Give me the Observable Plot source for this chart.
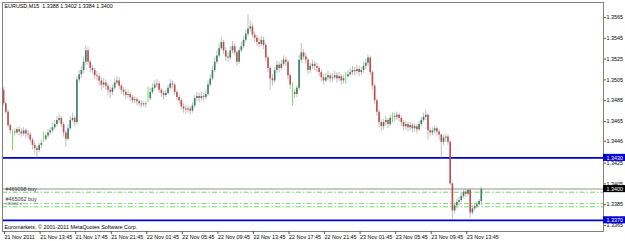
<!DOCTYPE html>
<html><head><meta charset="utf-8">
<script src="https://cdn.jsdelivr.net/npm/d3@7"></script>
<script src="https://cdn.jsdelivr.net/npm/@observablehq/plot@0.6"></script>
<style>html,body{margin:0;padding:0;background:#fff}svg{display:block}</style>
</head><body><div id="chart"></div>
<script>
const symbolTitle = "EURUSD,M15  1.3388 1.3402 1.3384 1.3400";
const copyright = "Euromarkets, \u00a9 2001-2011 MetaQuotes Software Corp.";
// prices as pips above 1.3300
const pipBase = 1.33;
const opens = [195,182,174,161,155,155,154,157,155,153,
 156,153,152,147,142,139,137,142,148,148,
 151,154,156,159,162,166,168,162,154,148,
 158,166,168,164,205,210,214,222,233,222,
 216,214,209,208,204,200,202,199,195,193,
 197,202,204,199,195,193,190,191,188,185,
 186,184,182,181,182,187,187,193,197,200,
 201,195,192,190,192,197,201,200,193,188,
 185,179,177,176,177,175,180,187,189,187,
 189,188,191,200,206,214,222,228,235,241,
 233,227,226,233,237,231,222,233,237,243,
 249,254,256,248,245,241,239,243,238,226,
 216,206,204,214,219,216,220,224,222,209,
 193,193,191,197,224,231,227,224,214,218,
 220,218,216,212,207,204,207,209,206,207,
 209,206,208,204,208,208,210,212,214,213,
 215,212,214,218,221,226,212,199,185,174,
 164,160,164,166,162,170,170,169,171,168,
 164,160,162,159,161,158,160,157,162,166,
 169,171,156,154,156,158,155,152,145,149,
 150,145,105,79,84,87,89,93,97,95,
 99,77,81,83,85,88];
const highs = [198,184,176,163,157,158,159,160,158,159,
 158,156,154,149,145,141,144,147,155,154,
 157,159,163,166,170,172,170,164,156,162,
 170,173,170,208,214,218,227,238,236,224,
 219,216,213,211,207,206,205,201,198,200,
 206,208,207,201,198,196,195,193,190,189,
 188,186,185,184,184,198,197,201,204,205,
 203,197,194,195,200,205,204,202,195,190,
 187,182,180,180,179,183,190,193,192,193,
 192,195,204,210,218,227,233,240,246,243,
 236,231,237,242,240,233,236,241,247,253,
 267,262,259,251,248,245,247,246,240,228,
 218,210,217,223,222,224,228,227,224,211,
 202,196,199,229,240,234,230,226,221,224,
 223,221,218,214,210,211,213,211,211,213,
 212,212,210,209,212,214,216,218,217,219,
 218,217,222,225,229,228,214,201,187,176,
 167,167,170,168,171,173,173,174,173,170,
 166,165,164,164,163,163,162,165,169,173,
 176,172,159,159,161,160,157,153,152,153,
 152,147,106,87,90,92,96,100,100,100,
 100,84,86,88,90,102];
const lows = [180,172,159,153,137,151,152,151,150,151,
 148,148,144,138,134,130,135,139,145,146,
 149,152,154,157,160,163,159,150,140,146,
 156,164,160,162,202,206,211,219,219,212,
 210,205,204,199,195,197,195,190,187,190,
 195,200,196,191,189,186,187,184,182,182,
 180,179,178,179,178,183,185,191,195,197,
 192,188,186,188,190,195,196,190,185,181,
 176,173,172,173,171,173,178,184,183,185,
 184,186,189,198,204,212,220,226,233,229,
 223,222,224,230,228,218,220,231,235,241,
 247,251,245,241,237,236,237,234,222,212,
 195,199,202,211,212,214,218,218,205,196,
 180,187,188,195,221,224,220,210,211,215,
 214,212,208,203,200,202,204,202,203,205,
 202,203,200,201,201,206,208,209,209,210,
 208,209,211,215,218,209,195,181,170,159,
 156,157,161,158,160,164,165,166,164,160,
 156,157,155,156,154,155,153,155,160,164,
 166,147,150,151,153,151,147,130,142,145,
 142,103,71,76,81,84,87,91,92,93,
 72,75,79,81,84,84];
const closes = [182,174,161,156,155,154,157,155,153,156,
 153,152,147,142,139,137,142,144,148,151,
 154,156,159,162,166,168,162,154,148,158,
 166,168,164,205,210,214,222,233,222,216,
 214,209,208,204,200,202,199,195,193,197,
 202,204,199,195,193,190,191,188,185,186,
 184,182,181,182,181,187,193,197,200,201,
 195,192,190,192,197,201,200,193,188,185,
 179,177,176,177,175,180,187,189,187,189,
 188,191,200,206,214,222,228,235,241,233,
 227,226,233,237,231,222,233,237,243,249,
 254,256,248,245,241,239,243,238,226,216,
 206,204,214,219,216,220,224,222,209,200,
 193,191,197,224,231,227,224,214,218,220,
 218,216,212,207,204,207,209,206,207,209,
 206,208,204,206,208,210,212,214,213,215,
 212,214,218,221,226,212,199,185,174,164,
 160,164,166,162,168,170,169,171,168,164,
 160,162,159,161,158,160,157,162,166,169,
 171,156,154,156,158,155,152,145,149,150,
 145,105,79,84,87,89,93,97,95,99,
 77,81,83,85,88,100];

const timeLabels = ["21 Nov 2011","21 Nov 13:45","21 Nov 17:45","21 Nov 21:45","22 Nov 01:45","22 Nov 05:45","22 Nov 09:45","22 Nov 13:45","22 Nov 17:45","22 Nov 21:45","23 Nov 01:45","23 Nov 05:45","23 Nov 09:45","23 Nov 13:45"];
const barsPerLabel = 16;
const priceTicks = [1.3565,1.3545,1.3525,1.3505,1.3485,1.3465,1.3446,1.3425,1.3405,1.3385,1.3365];
const priceTickLabels = ["1.3565","1.3545","1.3525","1.3505","1.3485","1.3465","1.3446","1.3425","1.3405","1.3385","1.3365"];
const levelPrices = [1.3430, 1.3370];
const bidPrice = [1.3400];
const orderPrices = [1.3397, 1.3386, 1.3383];
const orderLabels = ["#469098 buy", "#465062 buy", "#465062 sl"];
const markerPrices = [1.3430, 1.3400, 1.3370];
const markerLabels = ["1.3430", "1.3400", "1.3370"];
const markerColors = ["#0000cc", "#000000", "#0000cc"];

const bars = opens.map((o, i) => ({
  i, o: pipBase + o / 1e4, h: pipBase + highs[i] / 1e4,
  l: pipBase + lows[i] / 1e4, c: pipBase + closes[i] / 1e4, doji: o === closes[i]
}));
const timeTicks = timeLabels.map((_, k) => k * barsPerLabel);
const priceLabelOf = new Map(priceTicks.map((p, k) => [p, priceTickLabels[k]]));
const markers = markerPrices.map((p, k) => ({p, label: markerLabels[k], color: markerColors[k]}));
const orders = orderPrices.map((p, k) => ({p, label: orderLabels[k], k}));

const FONT = "'Liberation Sans', Arial, sans-serif";
const GREEN = "#3a7d5e", RED = "#c44a4a", WICK = "#b8b8b8", LIME = "#5fe04a";

const chart = Plot.plot({
  width: 625, height: 241,
  marginTop: 2, marginBottom: 10, marginLeft: 2, marginRight: 22,
  style: {fontFamily: FONT, fontSize: "5.4px", background: "#fff", color: "#000", overflow: "visible"},
  x: {domain: [-0.5, 270], axis: null},
  y: {domain: [1.335923, 1.357942], axis: null},
  color: {type: "identity"},
  marks: [
    Plot.ruleY(levelPrices, {stroke: "#0000cc", strokeWidth: 1.8}),
    Plot.ruleY(bidPrice, {stroke: "#c8c8c8", strokeWidth: 2}),
    Plot.ruleY(orders, {y: "p", stroke: "#72d872", strokeWidth: 1, strokeDasharray: "5,2,1.5,2"}),
    Plot.text(orders.filter(d => d.k === 0), {y: "p", text: "label", frameAnchor: "left", textAnchor: "start", lineAnchor: "bottom", dx: 3, dy: -1, fill: "#333"}),
    Plot.text(orders.filter(d => d.k === 1), {y: "p", text: "label", frameAnchor: "left", textAnchor: "start", lineAnchor: "bottom", dx: 3, dy: -2.6, fill: "#333"}),
    Plot.text(orders.filter(d => d.k === 2), {y: "p", text: "label", frameAnchor: "left", textAnchor: "start", lineAnchor: "bottom", dx: 3, dy: -1.8, fill: "#555", fontSize: 3.4}),
    Plot.ruleX(bars, {x: "i", y1: "l", y2: "h", stroke: d => d.doji ? LIME : WICK, strokeWidth: 0.9}),
    Plot.ruleX(bars.filter(d => !d.doji), {x: "i", y1: "o", y2: "c", stroke: d => d.c > d.o ? GREEN : RED, strokeWidth: 1.6}),
    Plot.text([symbolTitle], {frameAnchor: "top-left", textAnchor: "start", lineAnchor: "top", dx: 2, dy: 2, fill: "#000"}),
    Plot.text([copyright], {frameAnchor: "bottom-left", textAnchor: "start", lineAnchor: "bottom", dx: 2, dy: -3, fill: "#000"}),
    Plot.frame({stroke: "#808080"}),
    Plot.axisX(timeTicks, {anchor: "bottom", label: null, tickSize: 3, tickPadding: 0.5, textAnchor: "start", dx: 1, fontSize: 5.4, tickFormat: d => timeLabels[d / barsPerLabel], stroke: "#555"}),
    Plot.axisY(priceTicks, {anchor: "right", label: null, tickSize: 2, tickPadding: 1, fontSize: 5.4, tickFormat: d => priceLabelOf.get(d), stroke: "#555"}),
    Plot.rect(markers, {x1: 270, x2: 290, y1: d => d.p - 0.00034, y2: d => d.p + 0.00034, fill: "color"}),
    Plot.text(markers, {x: 270, y: "p", text: "label", textAnchor: "start", dx: 3, fill: "#fff", fontSize: 5.4})
  ]
});
document.getElementById("chart").appendChild(chart);
</script>
</body></html>
